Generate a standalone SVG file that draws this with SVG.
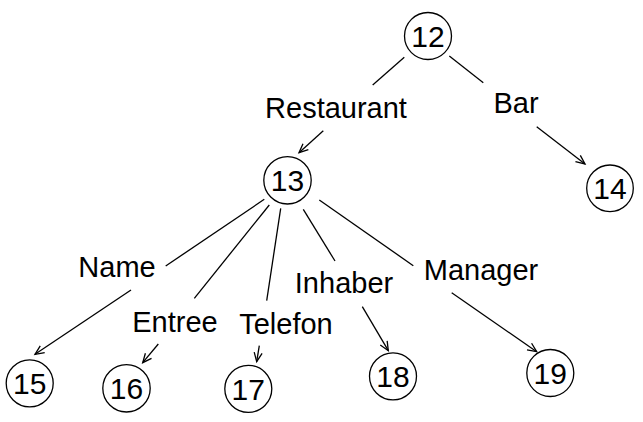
<svg xmlns="http://www.w3.org/2000/svg" width="643" height="422" viewBox="0 0 643 422">
<style>
text{font-family:"Liberation Sans",Arial,sans-serif;font-size:29px;fill:#000;text-anchor:middle}
text.n{font-size:30px}
circle{fill:#fff;stroke:#000;stroke-width:1.3}
.e{stroke:#000;stroke-width:1.3;fill:none}
</style>
<defs>
<marker id="a" markerUnits="userSpaceOnUse" markerWidth="12" markerHeight="12" refX="10" refY="5" orient="auto">
<path d="M1,1 L10,5 L1,9" fill="none" stroke="#000" stroke-width="1.3"/>
</marker>
</defs>
<rect width="643" height="422" fill="#fff"/>
<g id="connectors">
<line class="e" x1="404.3" y1="57.3" x2="372.7" y2="85"/>
<line class="e" x1="449.3" y1="56" x2="483.3" y2="82.7"/>
<line class="e" x1="323.3" y1="130.7" x2="299" y2="152.7" marker-end="url(#a)"/>
<line class="e" x1="536.7" y1="126.7" x2="585" y2="164" marker-end="url(#a)"/>
<line class="e" x1="264.3" y1="199.3" x2="165.7" y2="266"/>
<line class="e" x1="131" y1="290" x2="35" y2="354.3" marker-end="url(#a)"/>
<line class="e" x1="269.3" y1="205" x2="194.3" y2="298.3"/>
<line class="e" x1="158.3" y1="344" x2="142.7" y2="362.7" marker-end="url(#a)"/>
<line class="e" x1="280.7" y1="208.3" x2="266.7" y2="300.7"/>
<line class="e" x1="259.3" y1="345.7" x2="256.7" y2="361.7" marker-end="url(#a)"/>
<line class="e" x1="303.3" y1="209.3" x2="335" y2="261"/>
<line class="e" x1="362.3" y1="306.7" x2="388.3" y2="350.7" marker-end="url(#a)"/>
<line class="e" x1="319.3" y1="200" x2="413.3" y2="265.7"/>
<line class="e" x1="451.7" y1="292.7" x2="536.7" y2="351.7" marker-end="url(#a)"/>
<text x="336" y="118">Restaurant</text>
<text x="516" y="113">Bar</text>
<text x="117" y="276.5">Name</text>
<text x="175" y="331.5">Entree</text>
<text x="286" y="334">Telefon</text>
<text x="344" y="293">Inhaber</text>
<text x="481" y="280">Manager</text>
</g>
<g id="n12"><circle cx="428" cy="36" r="23.5"/><text class="n" x="428" y="46.7">12</text></g>
<g id="n13"><circle cx="287.5" cy="180.3" r="23.7"/><text class="n" x="287.5" y="191">13</text></g>
<g id="n14"><circle cx="610" cy="188.3" r="23.3"/><text class="n" x="610" y="199">14</text></g>
<g id="n15"><circle cx="29.7" cy="383.3" r="23.5"/><text class="n" x="29.7" y="394">15</text></g>
<g id="n16"><circle cx="126.5" cy="388.3" r="23.7"/><text class="n" x="126.5" y="399">16</text></g>
<g id="n17"><circle cx="248.3" cy="388.8" r="23.5"/><text class="n" x="248.3" y="399.5">17</text></g>
<g id="n18"><circle cx="393" cy="376.3" r="23.5"/><text class="n" x="393" y="387">18</text></g>
<g id="n19"><circle cx="550.3" cy="373" r="23.5"/><text class="n" x="550.3" y="383.7">19</text></g>
</svg>
